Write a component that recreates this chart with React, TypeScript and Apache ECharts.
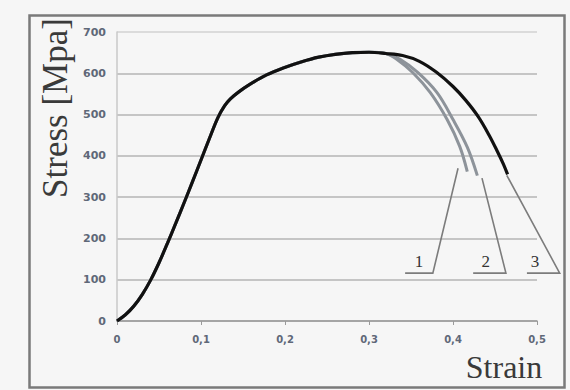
import React, { useEffect, useRef } from "react";
import * as echarts from "echarts";

// Shared loading path (strain, stress MPa)
const sharedPath: [number, number][] = [
  [0, 0], [0.01, 15], [0.02, 36], [0.03, 64], [0.04, 99], [0.05, 141],
  [0.06, 188], [0.07, 237], [0.08, 287], [0.09, 338], [0.1, 390],
  [0.11, 442], [0.12, 492], [0.128, 521], [0.135, 538], [0.145, 555],
  [0.158, 573], [0.178, 596], [0.198, 613], [0.22, 628], [0.24, 639],
  [0.26, 646], [0.28, 650], [0.3, 651], [0.32, 648],
];
const tail1: [number, number][] = [
  [0.333, 634], [0.352, 602], [0.373, 553], [0.393, 488], [0.408, 423], [0.417, 362],
];
const tail2: [number, number][] = [
  [0.337, 634], [0.358, 602], [0.381, 553], [0.4, 488], [0.417, 421], [0.429, 352],
];
const tail3: [number, number][] = [
  [0.34, 643], [0.36, 629], [0.38, 603], [0.4, 568], [0.415, 535], [0.43, 495],
  [0.443, 450], [0.453, 410], [0.46, 380], [0.465, 355],
];
const leaders: [number, number][][] = [
  [[0.343, 116], [0.376, 116], [0.406, 370]],
  [[0.424, 116], [0.463, 116], [0.4345, 346]],
  [[0.488, 116], [0.527, 116], [0.464, 353]],
];
const curveLabels = [
  { name: "1", value: [0.3595, 143] },
  { name: "2", value: [0.439, 143] },
  { name: "3", value: [0.4976, 143] },
];
const xMin = 0, xMax = 0.5, xStep = 0.1;
const yMin = 0, yMax = 700, yStep = 100;

export default function App() {
  const ref = useRef<HTMLDivElement>(null);
  useEffect(() => {
    if (!ref.current) return;
    const chart = echarts.init(ref.current, null, { renderer: "svg" });
    const gray = "#8d939a";
    const lineSeries = (name: string, tail: [number, number][], color: string, width: number, z: number) => ({
      name,
      type: "line",
      data: [...sharedPath, ...tail],
      symbol: "none",
      smooth: 0.35,
      lineStyle: { color, width },
      z,
    });
    chart.setOption({
      animation: false,
      backgroundColor: "#f6f6f6",
      grid: { left: 117, right: 33, top: 32, bottom: 69 },
      xAxis: {
        type: "value",
        min: xMin,
        max: xMax,
        interval: xStep,
        axisLine: { show: true, lineStyle: { color: "#9a9a9a", width: 1.5 } },
        axisTick: { show: true, length: 4, lineStyle: { color: "#9a9a9a" } },
        splitLine: { show: false },
        axisLabel: {
          margin: 13,
          fontSize: 10,
          fontWeight: "bold",
          color: "#5f6878",
          fontFamily: "DejaVu Sans",
          formatter: (v: number) => (v === 0 ? "0" : v.toFixed(1).replace(".", ",")),
        },
      },
      yAxis: {
        type: "value",
        min: yMin,
        max: yMax,
        interval: yStep,
        axisLine: { show: true, lineStyle: { color: "#c8c8c8", width: 1.5 } },
        axisTick: { show: false },
        splitLine: {
          show: true,
          lineStyle: {
            color: ["#b5b5b5", "#b5b5b5", "#b5b5b5", "#b5b5b5", "#b5b5b5", "#b5b5b5", "#b5b5b5", "#d2d2d2"],
            width: 1.6,
          },
        },
        axisLabel: {
          margin: 11,
          fontSize: 11,
          fontWeight: "bold",
          color: "#5f6878",
          fontFamily: "DejaVu Sans",
        },
      },
      series: [
        lineSeries("1", tail1, gray, 3, 2),
        lineSeries("2", tail2, gray, 3, 2),
        lineSeries("3", tail3, "#111111", 3.2, 3),
      ],
    });

    const toPx = (p: number[]) => chart.convertToPixel({ gridIndex: 0 }, p) as number[];
    const leaderGraphics = leaders.map((pts) => ({
      type: "polyline",
      shape: { points: pts.map(toPx) },
      style: { fill: "none", stroke: "#7c7c7c", lineWidth: 1.6 },
      z: 1,
      silent: true,
    }));
    const labelGraphics = curveLabels.map((l) => {
      const [px, py] = toPx(l.value);
      return {
        type: "text",
        x: px,
        y: py,
        style: {
          text: l.name,
          font: '17px "Liberation Serif"',
          fill: "#333333",
          align: "center",
          verticalAlign: "middle",
        },
        z: 4,
      };
    });
    chart.setOption({
      graphic: [
        {
          type: "rect",
          shape: { x: 29.5, y: 15.5, width: 535, height: 372 },
          style: { fill: "none", stroke: "#7a7a7a", lineWidth: 2.5 },
          z: -1,
        },
        {
          type: "text",
          x: 55,
          y: 108,
          rotation: Math.PI / 2,
          style: {
            text: "Stress [Mpa]",
            font: '35px "Liberation Serif"',
            fill: "#3a3a3a",
            align: "center",
            verticalAlign: "middle",
          },
        },
        {
          type: "text",
          x: 504,
          y: 367,
          style: {
            text: "Strain",
            font: '32px "Liberation Serif"',
            fill: "#3a3a3a",
            align: "center",
            verticalAlign: "middle",
          },
        },
        ...leaderGraphics,
        ...labelGraphics,
      ],
    });
    return () => chart.dispose();
  }, []);
  return (
    <div
      ref={ref}
      style={{ position: "fixed", left: 0, top: 0, width: 570, height: 390 }}
    />
  );
}
